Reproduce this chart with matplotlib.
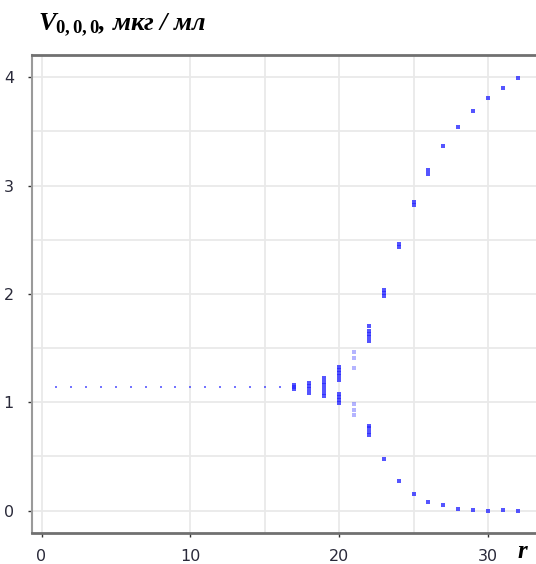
import numpy as np
import matplotlib.pyplot as plt

plt.rcParams['mathtext.fontset'] = 'custom'
plt.rcParams['mathtext.it'] = 'Liberation Serif:italic:bold'
plt.rcParams['mathtext.rm'] = 'Liberation Serif:bold'
plt.rcParams['mathtext.bf'] = 'Liberation Serif:bold'

# стационарная ветвь до точки бифуркации
r_single = [1, 2, 3, 4, 5, 6, 7, 8, 9, 10, 11, 12, 13, 14, 15, 16]
v_single = [1.14, 1.14, 1.14, 1.14, 1.14, 1.14, 1.14, 1.14,
            1.14, 1.14, 1.14, 1.14, 1.14, 1.14, 1.14, 1.14]

# после бифуркации: значения на каждом r (верхняя и нижняя ветви)
r_split = [17, 18, 19, 20, 22, 23, 24, 25, 26, 27, 28, 29, 30, 31, 32]
v_upper = [[1.12, 1.14, 1.16],
           [1.15, 1.18],
           [1.16, 1.19, 1.22],
           [1.21, 1.24, 1.27, 1.30, 1.33],
           [1.57, 1.60, 1.63, 1.66, 1.70],
           [1.98, 2.01, 2.04],
           [2.43, 2.46],
           [2.82, 2.85],
           [3.11, 3.14],
           [3.36],
           [3.54],
           [3.69],
           [3.81],
           [3.90],
           [3.99]]
v_lower = [[],
           [1.09, 1.12],
           [1.06, 1.09, 1.12],
           [0.99, 1.02, 1.05, 1.08],
           [0.70, 0.73, 0.76, 0.78],
           [0.48],
           [0.27],
           [0.15],
           [0.08],
           [0.05],
           [0.02],
           [0.01],
           [0.0],
           [0.005],
           [0.0]]

# переходные значения (бледные точки)
r_faint = [21]
v_faint = [[0.88, 0.93, 0.98, 1.32, 1.41, 1.46]]

x_major = [0, 10, 20, 30]
x_grid = [0, 10, 15, 20, 25, 30]
y_major = [0, 1, 2, 3, 4]
y_grid = [0, 0.5, 1, 1.5, 2, 2.5, 3, 3.5, 4]

fig = plt.figure(figsize=(5.36, 5.64), dpi=100)
ax = fig.add_axes([32 / 536, 1 - 532.7 / 564, 1 - 32 / 536, (532.7 - 55) / 564])

pts_color = '#2a2aff'
ax.plot(r_single, v_single, ls='none', marker='s', ms=2.1, mew=0,
        color=pts_color, alpha=0.65)

for r, up, lo in zip(r_split, v_upper, v_lower):
    vals = up + lo
    ax.plot([r] * len(vals), vals, ls='none', marker='s', ms=2.2, mew=0,
            color=pts_color, alpha=0.8)

for r, vals in zip(r_faint, v_faint):
    ax.plot([r] * len(vals), vals, ls='none', marker='s', ms=2.2, mew=0,
            color=pts_color, alpha=0.35)

ax.set_xlim(-0.64, 33.23)
ax.set_ylim(-0.203, 4.204)

# сетка
for gx in x_grid:
    ax.axvline(gx, color='#e9e9e9', lw=1.3, zorder=0)
for gy in y_grid:
    ax.axhline(gy, color='#e9e9e9', lw=1.3, zorder=0)

ax.set_xticks(x_major)
ax.set_yticks(y_major)
ax.tick_params(axis='both', direction='out', length=3, width=1,
               color='#333333', labelsize=11.5, labelcolor='#2a2a3a')
ax.tick_params(axis='x', pad=9)
ax.tick_params(axis='y', pad=10)

ax.spines['right'].set_visible(False)
ax.spines['left'].set_color('#9a9a9a')
ax.spines['left'].set_linewidth(1.5)
for side in ['top', 'bottom']:
    ax.spines[side].set_color('#707070')
    ax.spines[side].set_linewidth(2.0)

fig.text(38 / 536, 1 - 31 / 564, r'$V_{0,0,0}$, мкг / мл',
         family='Liberation Serif', weight='bold', style='italic',
         fontsize=19, ha='left', va='baseline')
fig.text(517 / 536, 1 - 558 / 564, 'r',
         family='Liberation Serif', weight='bold', style='italic',
         fontsize=18, ha='left', va='baseline')

fig.savefig('out.png', dpi=100)
